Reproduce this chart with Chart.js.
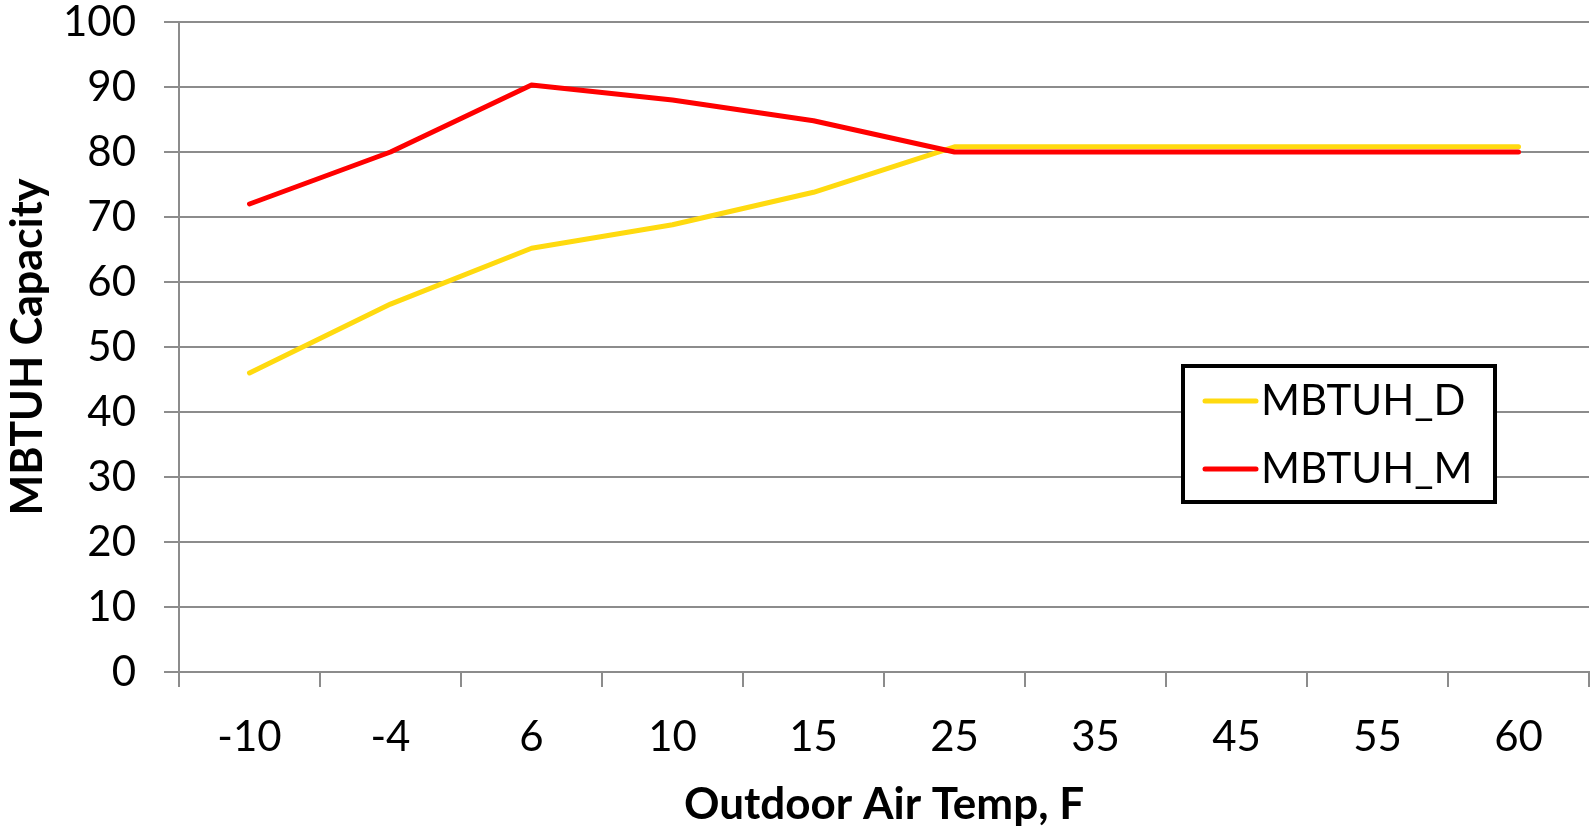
<!DOCTYPE html>
<html lang="en">
<head>
    <meta charset="UTF-8">
    <title>MBTUH Capacity vs Outdoor Air Temp</title>
    <script src="https://cdn.jsdelivr.net/npm/chart.js"></script>
    <style>
        html, body { margin: 0; padding: 0; background: #fff; }
        #wrap { width: 1594px; height: 828px; position: relative; }
    </style>
</head>
<body>
    <div id="wrap"><canvas id="capacityChart"></canvas></div>

    <script>
        // data
        const tempLabels = ['-10', '-4', '6', '10', '15', '25', '35', '45', '55', '60'];
        const mbtuhD = [46, 56.6, 65.2, 68.8, 73.8, 80.8, 80.8, 80.8, 80.8, 80.8];
        const mbtuhM = [72, 80, 90.3, 88, 84.8, 80, 80, 80, 80, 80];

        const FONT = 'Lato, "Open Sans", sans-serif';
        const gridGray = '#8c8c8c';

        // legend drawn as a boxed panel inside the plot, like the Excel original
        const boxedLegend = {
            id: 'boxedLegend',
            afterDraw(chart) {
                const ctx = chart.ctx;
                const x = 1183, y = 366, w = 312, h = 136;
                ctx.save();
                ctx.fillStyle = '#fff';
                ctx.fillRect(x, y, w, h);
                ctx.lineWidth = 4;
                ctx.strokeStyle = '#000';
                ctx.strokeRect(x, y, w, h);
                ctx.font = '42px ' + FONT;
                ctx.textBaseline = 'middle';
                ctx.lineCap = 'round';
                chart.data.datasets.forEach((ds, i) => {
                    const cy = y + 35 + i * 68;
                    ctx.strokeStyle = ds.borderColor;
                    ctx.lineWidth = 5;
                    ctx.beginPath();
                    ctx.moveTo(x + 22, cy);
                    ctx.lineTo(x + 73, cy);
                    ctx.stroke();
                    ctx.fillStyle = '#000';
                    ctx.fillText(ds.label, x + 78, cy);
                });
                ctx.restore();
            }
        };

        const ctx = document.getElementById('capacityChart').getContext('2d');
        new Chart(ctx, {
            type: 'line',
            data: {
                labels: tempLabels,
                datasets: [
                    {
                        label: 'MBTUH_D',
                        data: mbtuhD,
                        borderColor: '#FFDA0F',
                        borderWidth: 5,
                        pointRadius: 0,
                        borderCapStyle: 'round',
                        borderJoinStyle: 'round',
                        fill: false,
                        tension: 0,
                        order: 2
                    },
                    {
                        label: 'MBTUH_M',
                        data: mbtuhM,
                        borderColor: '#FF0000',
                        borderWidth: 5,
                        pointRadius: 0,
                        borderCapStyle: 'round',
                        borderJoinStyle: 'round',
                        fill: false,
                        tension: 0,
                        order: 1
                    }
                ]
            },
            options: {
                responsive: true,
                maintainAspectRatio: false,
                animation: false,
                layout: { padding: { top: 22, right: 5, left: 0, bottom: 0 } },
                plugins: {
                    legend: { display: false },
                    tooltip: { enabled: false }
                },
                scales: {
                    x: {
                        type: 'category',
                        offset: true,
                        grid: {
                            display: true,
                            offset: true,
                            drawOnChartArea: false,
                            drawTicks: true,
                            tickLength: 15,
                            color: gridGray,
                            lineWidth: 2
                        },
                        border: { color: gridGray, width: 2 },
                        ticks: {
                            color: '#000',
                            font: { family: FONT, size: 42 },
                            padding: 25,
                            maxRotation: 0,
                            autoSkip: false
                        },
                        title: {
                            display: true,
                            text: 'Outdoor Air Temp, F',
                            color: '#000',
                            font: { family: FONT, size: 44, weight: 'bold' },
                            padding: { top: 0, bottom: -3 }
                        },
                        afterFit(scale) {
                            scale.height = 156;
                            scale.paddingLeft = 0;
                            scale.paddingRight = 0;
                        }
                    },
                    y: {
                        min: 0,
                        max: 100,
                        ticks: {
                            stepSize: 10,
                            color: '#000',
                            font: { family: FONT, size: 42 },
                            padding: 28
                        },
                        grid: {
                            color: gridGray,
                            lineWidth: 2,
                            tickLength: 15
                        },
                        border: { color: gridGray, width: 2 },
                        title: {
                            display: true,
                            text: 'MBTUH Capacity',
                            color: '#000',
                            font: { family: FONT, size: 43, weight: 'bold' },
                            padding: { top: 2, bottom: 0 }
                        },
                        afterFit(scale) {
                            scale.width = 179;
                            scale.paddingTop = 0;
                            scale.paddingBottom = 0;
                        }
                    }
                }
            },
            plugins: [boxedLegend]
        });
    </script>
</body>
</html>
